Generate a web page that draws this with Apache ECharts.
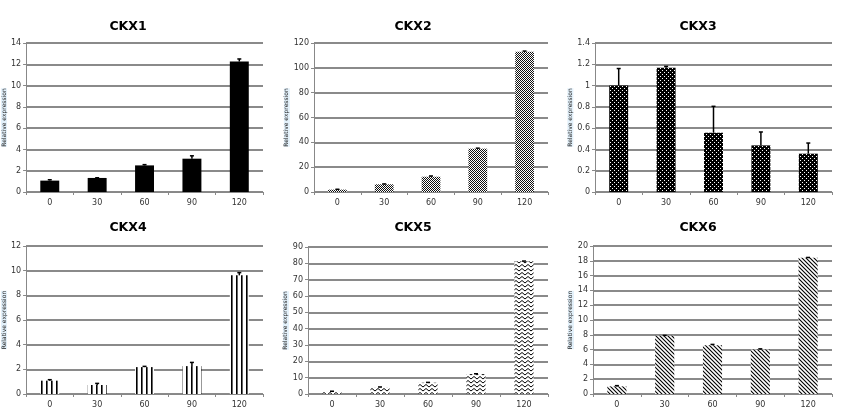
<!DOCTYPE html>
<html><head><meta charset="utf-8">
<script src="https://cdn.jsdelivr.net/npm/echarts@6/dist/echarts.min.js"></script>
<style>html,body{margin:0;padding:0;background:#fff}#c{width:844px;height:418px}</style>
</head><body><div id="c"></div>
<script>
const categories = ['0','30','60','90','120'];
const titles = ['CKX1','CKX2','CKX3','CKX4','CKX5','CKX6'];
const ckx1 = [1.07, 1.32, 2.5, 3.13, 12.26];
const ckx1Err = [0.08, 0.02, 0.07, 0.27, 0.24];
const ckx2 = [1.9, 6.2, 12.3, 34.9, 113];
const ckx2Err = [0.3, 0.3, 0.6, 0.4, 0.5];
const ckx3 = [1.0, 1.168, 0.557, 0.438, 0.36];
const ckx3Err = [0.16, 0.012, 0.248, 0.126, 0.1];
const ckx4 = [1.08, 0.73, 2.18, 2.26, 9.62];
const ckx4Err = [0.08, 0.13, 0.06, 0.3, 0.22];
const ckx5 = [1.3, 4.1, 6.9, 12.2, 81.2];
const ckx5Err = [0.4, 0.2, 0.2, 0.2, 0.2];
const ckx6 = [1.03, 7.87, 6.6, 6.0, 18.4];
const ckx6Err = [0.1, 0.05, 0.1, 0.1, 0.05];
const yMax = [14, 120, 1.4, 12, 90, 20];
const yInterval = [2, 20, 0.2, 2, 10, 2];
const yName = 'Relative expression';

const values = [ckx1, ckx2, ckx3, ckx4, ckx5, ckx6];
const errs = [ckx1Err, ckx2Err, ckx3Err, ckx4Err, ckx5Err, ckx6Err];

function tile(w, h, draw) {
  const c = document.createElement('canvas');
  c.width = w; c.height = h;
  const g = c.getContext('2d');
  draw(g, w, h);
  return {image: c, repeat: 'repeat'};
}
const patterns = [
  '#000',
  tile(2, 2, (g) => { g.fillStyle = '#fff'; g.fillRect(0,0,2,2); g.fillStyle = '#111'; g.fillRect(0,0,1,1); g.fillRect(1,1,1,1); }),
  tile(4, 4, (g) => { g.fillStyle = '#000'; g.fillRect(0,0,4,4); g.fillStyle = '#fff'; g.fillRect(0,0,1,1); g.fillRect(2,2,1,1); }),
  tile(5, 4, (g) => { g.fillStyle = '#fff'; g.fillRect(0,0,5,4); g.fillStyle = '#000'; g.fillRect(1,0,1.6,4); }),
  tile(6, 4, (g) => { g.fillStyle = '#fff'; g.fillRect(0,0,6,4); g.strokeStyle = '#000'; g.lineWidth = 1; g.beginPath(); g.moveTo(0,0.5); g.lineTo(3,3); g.lineTo(6,0.5); g.stroke(); }),
  tile(4, 4, (g) => { g.fillStyle = '#fff'; g.fillRect(0,0,4,4); g.strokeStyle = '#000'; g.lineWidth = 1.1; g.beginPath(); g.moveTo(-1,-1); g.lineTo(5,5); g.moveTo(-1,3); g.lineTo(1,5); g.moveTo(3,-1); g.lineTo(5,1); g.stroke(); })
];

const grids = [
  {left: 25, top: 43, width: 238, height: 149},
  {left: 314, top: 43, width: 234, height: 149},
  {left: 595, top: 43, width: 237, height: 149},
  {left: 24, top: 246, width: 239, height: 148},
  {left: 308, top: 247, width: 240, height: 147},
  {left: 593, top: 246, width: 239, height: 148}
];
const titlePos = [[128, 20], [413, 20], [698, 20], [128, 221], [413, 221], [698, 221]];

const font = 'DejaVu Sans';
const option = {
  animation: false,
  backgroundColor: '#fff',
  title: titles.map((t, i) => ({
    text: t, left: titlePos[i][0], top: titlePos[i][1], textAlign: 'center', padding: 0,
    textStyle: {fontFamily: font, fontWeight: 'bold', fontSize: 12.5, color: '#000'}
  })),
  grid: grids,
  xAxis: grids.map((g, i) => ({
    type: 'category', gridIndex: i, data: categories,
    axisLine: {lineStyle: {color: '#888', width: 1}},
    axisTick: {show: true, length: 3, lineStyle: {color: '#888'}},
    axisLabel: {fontFamily: font, fontSize: 8, color: '#333', margin: 7}
  })),
  yAxis: grids.map((g, i) => ({
    type: 'value', gridIndex: i, min: 0, max: yMax[i], interval: yInterval[i],
    name: yName, nameLocation: 'middle', nameGap: 16, nameRotate: 90,
    nameTextStyle: {fontFamily: font, fontSize: 6, color: '#222', backgroundColor: '#e3f1fb'},
    axisLine: {show: true, lineStyle: {color: '#888', width: 1}},
    axisTick: {show: true, length: 3, lineStyle: {color: '#888'}},
    splitLine: {lineStyle: {color: '#8a8a8a', width: 2}},
    axisLabel: {fontFamily: font, fontSize: 8, color: '#333', margin: 5}
  })),
  series: []
};
values.forEach((v, i) => {
  option.series.push({
    type: 'bar', xAxisIndex: i, yAxisIndex: i, data: v, barWidth: '40%',
    itemStyle: {color: patterns[i]}, z: 2
  });
  option.series.push({
    type: 'custom', xAxisIndex: i, yAxisIndex: i, z: 5,
    data: v.map((val, k) => [k, val, errs[i][k]]),
    renderItem: function (params, api) {
      const x = api.value(0), y = api.value(1), e = api.value(2);
      const p0 = api.coord([x, y]);
      const p1 = api.coord([x, y + e]);
      return {type: 'group', children: [
        {type: 'line', shape: {x1: p0[0], y1: p0[1], x2: p1[0], y2: p1[1]}, style: {stroke: '#000', lineWidth: 1.5}},
        {type: 'line', shape: {x1: p1[0] - 2, y1: p1[1], x2: p1[0] + 2, y2: p1[1]}, style: {stroke: '#000', lineWidth: 1.5}}
      ]};
    }
  });
});
const chart = echarts.init(document.getElementById('c'), null, {renderer: 'canvas'});
chart.setOption(option);
</script>
</body></html>
